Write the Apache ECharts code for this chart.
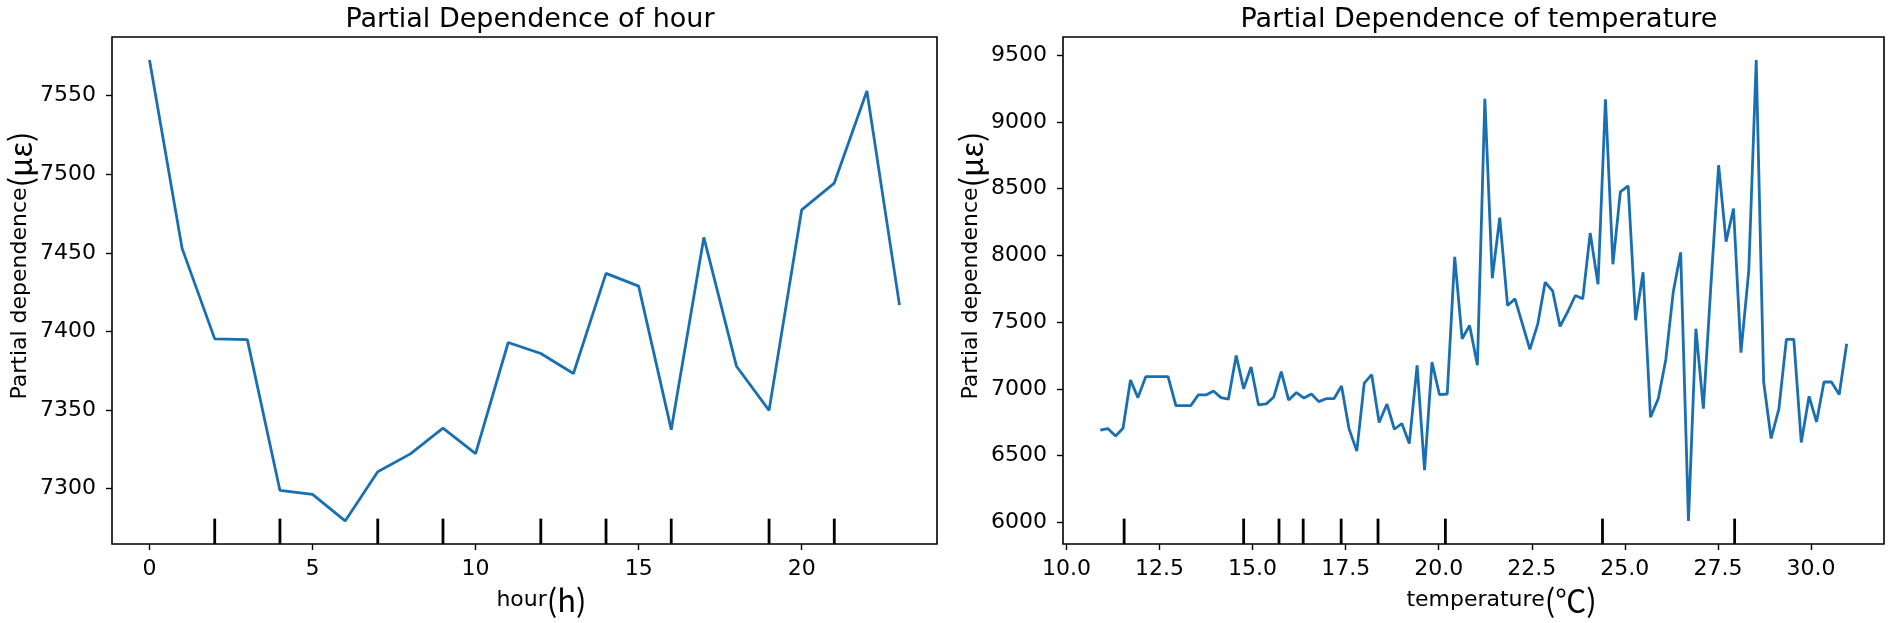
<!DOCTYPE html>
<html>
<head>
<meta charset="utf-8">
<script src="https://cdn.jsdelivr.net/npm/echarts@6/dist/echarts.min.js"></script>
<style>
  html, body { margin: 0; padding: 0; background: #fff; }
  #main { width: 1889px; height: 623px; }
</style>
</head>
<body>
<div id="main"></div>
<script>
// hour panel
var hours = [0, 1, 2, 3, 4, 5, 6, 7, 8, 9, 10, 11, 12, 13, 14, 15, 16, 17, 18, 19, 20, 21, 22, 23];
var hourPd = [7572.7, 7452.8, 7395.2, 7394.7, 7298.7, 7296.2, 7279.3, 7310.6, 7322.0, 7338.4, 7322.2, 7392.9,
              7385.9, 7373.2, 7436.9, 7428.8, 7337.4, 7459.8, 7377.8, 7349.7, 7477.3, 7494.4, 7553.0, 7416.7];
var hourDeciles = [2, 4, 7, 9, 12, 14, 16, 19, 21];
var hourXTicks = [0, 5, 10, 15, 20];
var hourYTicks = [7300, 7350, 7400, 7450, 7500, 7550];

// temperature panel
var tempGrid = [10.91, 11.11, 11.32, 11.52, 11.72, 11.92, 12.13, 12.33, 12.53, 12.73,
                12.94, 13.14, 13.34, 13.54, 13.75, 13.95, 14.15, 14.35, 14.56, 14.76,
                14.96, 15.16, 15.37, 15.57, 15.77, 15.97, 16.18, 16.38, 16.58, 16.78,
                16.99, 17.19, 17.39, 17.59, 17.80, 18.00, 18.20, 18.40, 18.61, 18.81,
                19.01, 19.21, 19.42, 19.62, 19.82, 20.02, 20.23, 20.43, 20.63, 20.83,
                21.04, 21.24, 21.44, 21.64, 21.85, 22.05, 22.25, 22.45, 22.66, 22.86,
                23.06, 23.26, 23.47, 23.67, 23.87, 24.07, 24.28, 24.48, 24.68, 24.88,
                25.09, 25.29, 25.49, 25.69, 25.90, 26.10, 26.30, 26.50, 26.71, 26.91,
                27.11, 27.31, 27.52, 27.72, 27.92, 28.12, 28.33, 28.53, 28.73, 28.93,
                29.14, 29.34, 29.54, 29.74, 29.95, 30.15, 30.35, 30.55, 30.76, 30.96];
var tempPd = [6690, 6702, 6647, 6705, 7066, 6934, 7091, 7091, 7091, 7091,
              6874, 6874, 6874, 6954, 6954, 6984, 6934, 6922, 7250, 7001,
              7163, 6879, 6887, 6939, 7128, 6916, 6972, 6931, 6961, 6904,
              6927, 6927, 7021, 6702, 6533, 7043, 7106, 6747, 6886, 6697,
              6740, 6590, 7176, 6391, 7200, 6957, 6961, 7988, 7375, 7475,
              7176, 9173, 7828, 8282, 7624, 7674, 7484, 7295, 7484, 7798,
              7734, 7467, 7579, 7699, 7674, 8167, 7783, 9169, 7933, 8476,
              8521, 7514, 7873, 6787, 6927, 7218, 7723, 8022, 6010, 7450,
              6852, 7764, 8676, 8102, 8351, 7271, 7886, 9463, 7051, 6628,
              6852, 7370, 7370, 6598, 6944, 6752, 7051, 7051, 6957, 7338];
var tempDeciles = [11.55, 14.76, 15.71, 16.36, 17.38, 18.37, 20.18, 24.40, 27.95];
var tempXTicks = [10, 12.5, 15, 17.5, 20, 22.5, 25, 27.5, 30];
var tempYTicks = [6000, 6500, 7000, 7500, 8000, 8500, 9000, 9500];

var lineColor = '#1a6fb0';
var font = 'DejaVu Sans';

// matplotlib style 5% padding
function pad(arr) {
    var lo = Math.min.apply(null, arr), hi = Math.max.apply(null, arr);
    var m = (hi - lo) * 0.05;
    return [lo - m, hi + m];
}

function zip(xs, ys) { return xs.map(function (x, i) { return [x, ys[i]]; }); }

var hx = pad(hours), hy = pad(hourPd);
var tx = pad(tempGrid), ty = pad(tempPd);

var unitStyle = { fontFamily: 'Noto Sans CJK SC', fontSize: 31, color: '#000' };

function xAxisOpt(idx, range, ticks, name, unit, fmt, shift) {
    return {
        type: 'value', gridIndex: idx, min: range[0], max: range[1],
        splitLine: { show: false },
        axisLine: { show: false, onZero: false },
        axisTick: { show: true, inside: false, length: 6, customValues: ticks, lineStyle: { color: '#000', width: 1.4 } },
        axisLabel: { customValues: ticks, margin: 14, color: '#000', fontSize: 22, fontFamily: font, formatter: fmt },
        name: name + '{p|' + unit + '}', nameLocation: 'middle', nameGap: 40,
        nameTextStyle: {
            color: '#000', fontSize: 22, fontFamily: font, padding: [0, 0, 0, shift],
            rich: { p: unitStyle }
        }
    };
}

function yAxisOpt(idx, range, ticks) {
    return {
        type: 'value', gridIndex: idx, min: range[0], max: range[1],
        splitLine: { show: false },
        axisLine: { show: false, onZero: false },
        axisTick: { show: true, inside: false, length: 6, customValues: ticks, lineStyle: { color: '#000', width: 1.4 } },
        axisLabel: { customValues: ticks, margin: 16, color: '#000', fontSize: 22, fontFamily: font,
                     formatter: function (v) { return String(v); } },
        name: 'Partial dependence{p|(με)}', nameLocation: 'middle', nameGap: 74, nameRotate: 90,
        nameTextStyle: {
            color: '#000', fontSize: 22, fontFamily: font, padding: [0, 0, 0, 50],
            rich: { p: unitStyle }
        }
    };
}

// rug of deciles, 5% of the axes height
function rugSeries(idx, deciles, yRange) {
    var yTop = yRange[0] + (yRange[1] - yRange[0]) * 0.05;
    return {
        type: 'custom', xAxisIndex: idx, yAxisIndex: idx, silent: true, z: 3,
        data: deciles.map(function (d) { return [d, yRange[0]]; }),
        renderItem: function (params, api) {
            var p0 = api.coord([api.value(0), yRange[0]]);
            var p1 = api.coord([api.value(0), yTop]);
            return {
                type: 'line',
                shape: { x1: p0[0], y1: p0[1], x2: p1[0], y2: p1[1] },
                style: { stroke: '#000', lineWidth: 2.8 }
            };
        }
    };
}

var myChart = echarts.init(document.getElementById('main'), null, { renderer: 'canvas' });
var option = {
    animation: false,
    backgroundColor: '#fff',
    title: [
        { text: 'Partial Dependence of hour', left: 525, top: 1, textAlign: 'center',
          textStyle: { fontFamily: font, fontSize: 27, fontWeight: 'normal', color: '#000' } },
        { text: 'Partial Dependence of temperature', left: 1474, top: 1, textAlign: 'center',
          textStyle: { fontFamily: font, fontSize: 27, fontWeight: 'normal', color: '#000' } }
    ],
    grid: [
        { left: 112, top: 37, width: 825, height: 507, show: true, borderColor: '#000', borderWidth: 1.6, backgroundColor: 'transparent' },
        { left: 1063, top: 37, width: 821, height: 507, show: true, borderColor: '#000', borderWidth: 1.6, backgroundColor: 'transparent' }
    ],
    xAxis: [
        xAxisOpt(0, hx, hourXTicks, 'hour', '(h)', function (v) { return String(v); }, 34),
        xAxisOpt(1, tx, tempXTicks, 'temperature', '(℃)', function (v) { return v.toFixed(1); }, 56)
    ],
    yAxis: [
        yAxisOpt(0, hy, hourYTicks),
        yAxisOpt(1, ty, tempYTicks)
    ],
    series: [
        { type: 'line', xAxisIndex: 0, yAxisIndex: 0, data: zip(hours, hourPd), showSymbol: false,
          lineStyle: { color: lineColor, width: 2.8 }, itemStyle: { color: lineColor } },
        { type: 'line', xAxisIndex: 1, yAxisIndex: 1, data: zip(tempGrid, tempPd), showSymbol: false,
          lineStyle: { color: lineColor, width: 2.8 }, itemStyle: { color: lineColor } },
        rugSeries(0, hourDeciles, hy),
        rugSeries(1, tempDeciles, ty)
    ]
};
myChart.setOption(option);
</script>
</body>
</html>
